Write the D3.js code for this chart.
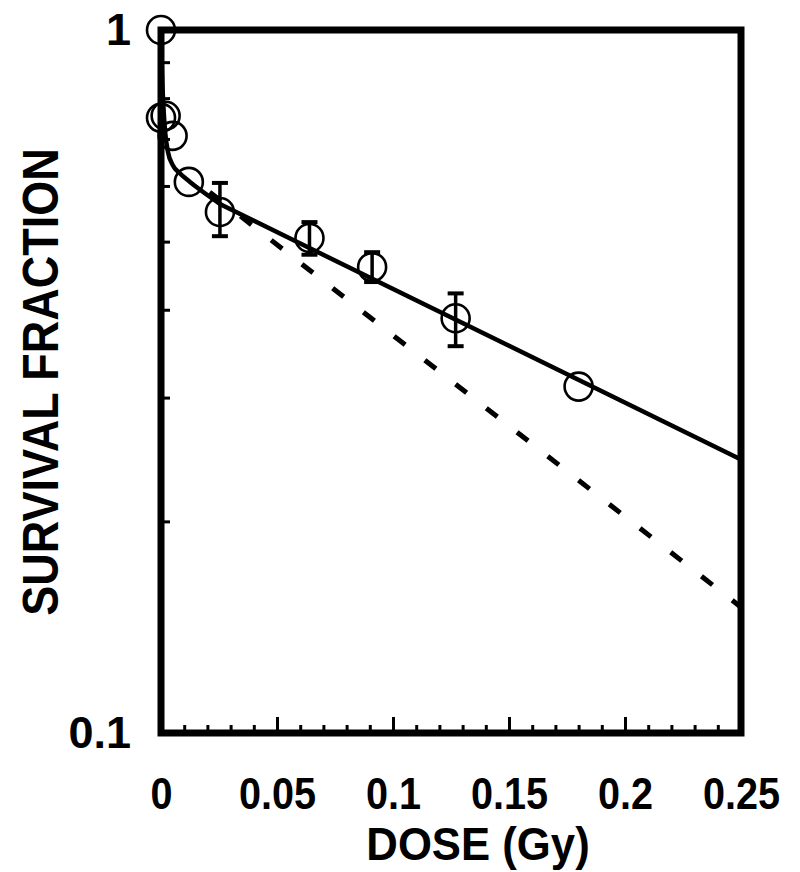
<!DOCTYPE html>
<html>
<head>
<meta charset="utf-8">
<script src="https://cdn.jsdelivr.net/npm/d3@7"></script>
<style>
  html, body { margin: 0; padding: 0; background: #fff; }
  svg { display: block; }
  text { font-family: "Liberation Sans", Arial, Helvetica, sans-serif; font-weight: bold; fill: #000; }
</style>
</head>
<body>
<svg id="chart" width="800" height="872"></svg>
<script>
// ---- data ----
const doses = [0, 0, 0.002, 0.005, 0.012, 0.0254, 0.064, 0.091, 0.127, 0.180];
const survival = [1.0, 0.75, 0.755, 0.707, 0.608, 0.551, 0.506, 0.460, 0.389, 0.311];
const errLow  = [null, null, null, null, null, 0.509, 0.479, 0.438, 0.355, null];
const errHigh = [null, null, null, null, null, 0.606, 0.533, 0.483, 0.422, null];

// solid fitted curve: steep initial part, then straight (log-linear) part
const fitDoseInitial = [0, 0.0004, 0.0009, 0.0017, 0.003, 0.005, 0.008, 0.0125, 0.017, 0.026];
const fitSFInitial   = [1.0, 0.877, 0.795, 0.721, 0.671, 0.643, 0.626, 0.608, 0.592, 0.564];
const fitDoseLinear = [0.026, 0.25];
const fitSFLinear   = [0.564, 0.245];

// dashed line
const dashDose = [0.021, 0.25];
const dashSF   = [0.588, 0.151];

const xTickLabels = ["0", "0.05", "0.1", "0.15", "0.2", "0.25"];
const xMajorTicks = [0, 0.05, 0.1, 0.15, 0.2, 0.25];
const xMinorTicks = [0.01, 0.02, 0.03, 0.04, 0.06, 0.07, 0.08, 0.09, 0.11, 0.12, 0.13, 0.14,
                     0.16, 0.17, 0.18, 0.19, 0.21, 0.22, 0.23, 0.24];
const yTickLabels = ["0.1", "1"];
const yMajorTicks = [0.1, 1];
const yMinorTicks = [0.2, 0.3, 0.4, 0.5, 0.6, 0.7, 0.8, 0.9];

// ---- layout ----
const L = 161, R = 741, T = 30, B = 733;
const svg = d3.select("#chart");
const x = d3.scaleLinear().domain([0, 0.25]).range([L, R]);
const y = d3.scaleLog().domain([0.1, 1]).range([B, T]);

// x axis (ticks pointing inward)
const gx = svg.append("g").attr("transform", `translate(0,${B})`);
gx.call(d3.axisBottom(x).tickValues(xMinorTicks).tickSize(-8).tickFormat(""));
gx.select(".domain").remove();
const gx2 = svg.append("g").attr("transform", `translate(0,${B})`);
gx2.call(d3.axisBottom(x).tickValues(xMajorTicks).tickSize(-16)
  .tickFormat((d, i) => xTickLabels[i]));
gx2.select(".domain").remove();
gx2.selectAll(".tick text").attr("font-size", 45).attr("dy", null)
  .attr("y", 76).attr("transform", "scale(0.88,1)");

// y axis
const gy = svg.append("g").attr("transform", `translate(${L},0)`);
gy.call(d3.axisLeft(y).tickValues(yMinorTicks).tickSize(-9).tickFormat(""));
gy.select(".domain").remove();
const gy2 = svg.append("g").attr("transform", `translate(${L},0)`);
gy2.call(d3.axisLeft(y).tickValues(yMajorTicks).tickSize(0)
  .tickFormat((d, i) => yTickLabels[i]).tickPadding(30));
gy2.select(".domain").remove();
gy2.selectAll(".tick text").attr("font-size", 45);
svg.selectAll(".tick line").attr("stroke", "#000").attr("stroke-width", 3);

// frame
svg.append("rect").attr("x", L).attr("y", T).attr("width", R - L).attr("height", B - T)
  .attr("fill", "none").attr("stroke", "#000").attr("stroke-width", 7);

// fitted curves
const curveLine = d3.line().x(d => x(d[0])).y(d => y(d[1])).curve(d3.curveMonotoneX);
const straight = d3.line().x(d => x(d[0])).y(d => y(d[1]));
svg.append("path").datum(fitDoseInitial.map((d, i) => [d, fitSFInitial[i]]))
  .attr("d", curveLine).attr("fill", "none").attr("stroke", "#000").attr("stroke-width", 4.5)
  .attr("stroke-linecap", "round");
svg.append("path").datum(fitDoseLinear.map((d, i) => [d, fitSFLinear[i]]))
  .attr("d", straight).attr("fill", "none").attr("stroke", "#000").attr("stroke-width", 4.5)
  .attr("stroke-linecap", "round");
svg.append("path").datum(dashDose.map((d, i) => [d, dashSF[i]]))
  .attr("d", straight).attr("fill", "none").attr("stroke", "#000").attr("stroke-width", 5)
  .attr("stroke-dasharray", "14,25");

// error bars
const pts = doses.map((d, i) => ({d, s: survival[i], lo: errLow[i], hi: errHigh[i]}));
const eb = svg.append("g");
pts.filter(p => p.lo != null).forEach(p => {
  eb.append("line").attr("x1", x(p.d)).attr("x2", x(p.d)).attr("y1", y(p.lo)).attr("y2", y(p.hi))
    .attr("stroke", "#000").attr("stroke-width", 3.5);
  [p.lo, p.hi].forEach(v => eb.append("line").attr("x1", x(p.d) - 8).attr("x2", x(p.d) + 8)
    .attr("y1", y(v)).attr("y2", y(v)).attr("stroke", "#000").attr("stroke-width", 4));
});

// points
svg.append("g").selectAll("circle").data(pts).join("circle")
  .attr("cx", p => x(p.d)).attr("cy", p => y(p.s)).attr("r", 14)
  .attr("fill", "none").attr("stroke", "#000").attr("stroke-width", 2.6);

// axis titles
svg.append("text").attr("transform", "translate(478,860) scale(0.95,1)").attr("text-anchor", "middle")
  .attr("font-size", 46).text("DOSE (Gy)");
svg.append("text").attr("transform", "translate(58,382) rotate(-90) scale(0.9,1)").attr("text-anchor", "middle")
  .attr("font-size", 50).text("SURVIVAL FRACTION");
</script>
</body>
</html>
